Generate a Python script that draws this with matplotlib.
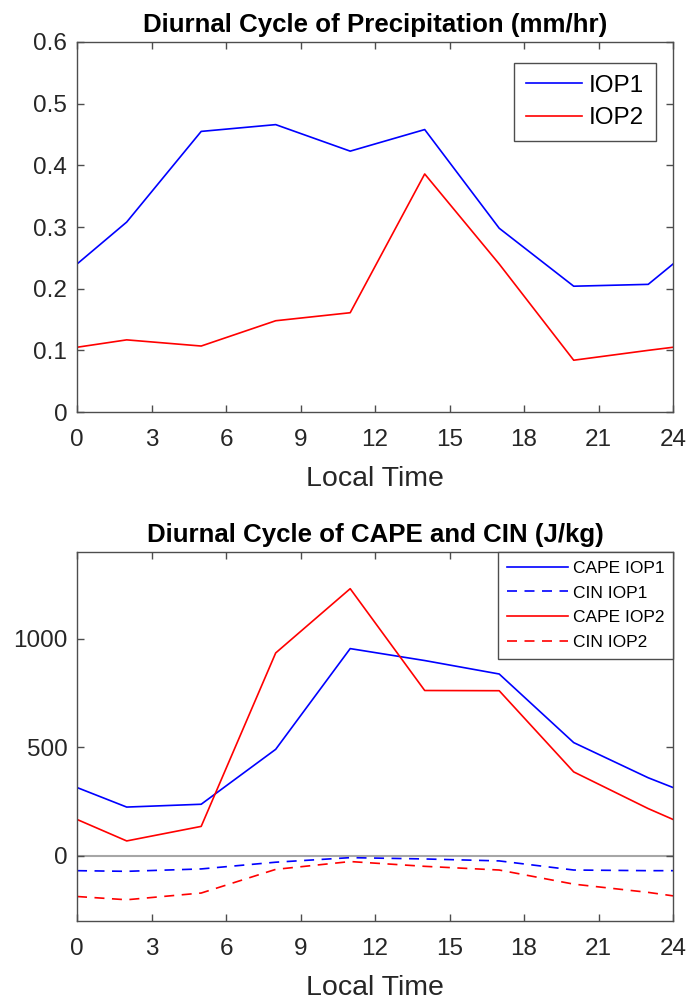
import matplotlib
matplotlib.use("Agg")
import matplotlib.pyplot as plt

plt.rcParams['font.family'] = ['Liberation Sans', 'DejaVu Sans']

hours = [0, 2, 5, 8, 11, 14, 17, 20, 23, 24]

# precipitation (mm/hr)
precip_iop1 = [0.240, 0.308, 0.455, 0.466, 0.423, 0.458, 0.298, 0.204, 0.207, 0.240]
precip_iop2 = [0.105, 0.117, 0.107, 0.148, 0.161, 0.386, 0.240, 0.084, 0.100, 0.105]

# CAPE and CIN (J/kg)
cape_iop1 = [315, 225, 238, 491, 955, 900, 838, 522, 360, 315]
cape_iop2 = [168, 69, 136, 935, 1231, 762, 761, 387, 218, 168]
cin_iop1 = [-68, -71, -60, -29, -8, -14, -23, -65, -68, -68]
cin_iop2 = [-187, -202, -171, -62, -26, -48, -65, -130, -168, -184]

xticks = [0, 3, 6, 9, 12, 15, 18, 21, 24]

spine_col = '0.3'
text_col = '#262626'
dash = (0, (6, 4.5))
lw = 1.2


def style_axes(ax):
    for s in ax.spines.values():
        s.set_color(spine_col)
        s.set_linewidth(1.0)
    ax.tick_params(direction='in', length=5, width=1.0, color=spine_col,
                   top=True, right=True, labelsize=17.5, labelcolor=text_col, pad=7)
    ax.tick_params(axis='x', pad=12)
    ax.set_xlim(0, 24)
    ax.set_xticks(xticks)
    ax.set_xlabel('Local Time', fontsize=20.5, color=text_col, labelpad=11)


fig = plt.figure(figsize=(6.92, 10.02), dpi=100)

ax1 = fig.add_axes([0.1113, 0.5888, 0.8613, 0.3693])
ax1.plot(hours, precip_iop1, color='#0000ff', lw=lw, label='IOP1')
ax1.plot(hours, precip_iop2, color='#ff0000', lw=lw, label='IOP2')
ax1.set_ylim(0, 0.6)
ax1.set_yticks([0, 0.1, 0.2, 0.3, 0.4, 0.5, 0.6])
ax1.set_yticklabels(['0', '0.1', '0.2', '0.3', '0.4', '0.5', '0.6'])
style_axes(ax1)
ax1.set_title('Diurnal Cycle of Precipitation (mm/hr)', fontsize=18.6, fontweight='bold', pad=7)
leg1 = ax1.legend(loc='upper right', bbox_to_anchor=(0.971, 0.944), borderaxespad=0,
                  fontsize=17.5, handlelength=2.3, handletextpad=0.25, labelspacing=0.42,
                  borderpad=0.5, fancybox=False, framealpha=1)
leg1.get_frame().set_edgecolor(spine_col)
leg1.get_frame().set_linewidth(1.0)

ax2 = fig.add_axes([0.1113, 0.0808, 0.8613, 0.3683])
ax2.axhline(0, color='0.65', lw=1.5, zorder=1)
ax2.plot(hours, cape_iop1, color='#0000ff', lw=lw, label='CAPE IOP1')
ax2.plot(hours, cin_iop1, color='#0000ff', lw=lw, ls=dash, label='CIN IOP1')
ax2.plot(hours, cape_iop2, color='#ff0000', lw=lw, label='CAPE IOP2')
ax2.plot(hours, cin_iop2, color='#ff0000', lw=lw, ls=dash, label='CIN IOP2')
ax2.set_ylim(-300, 1400)
ax2.set_yticks([0, 500, 1000])
style_axes(ax2)
ax2.set_title('Diurnal Cycle of CAPE and CIN (J/kg)', fontsize=18.6, fontweight='bold', pad=7)
leg2 = ax2.legend(loc='upper right', borderaxespad=0,
                  fontsize=12.5, handlelength=3.5, handletextpad=0.3, labelspacing=0.55,
                  borderpad=0.5, fancybox=False, framealpha=1)
leg2.get_frame().set_edgecolor(spine_col)
leg2.get_frame().set_linewidth(1.0)

fig.savefig('out.png', dpi=100)
